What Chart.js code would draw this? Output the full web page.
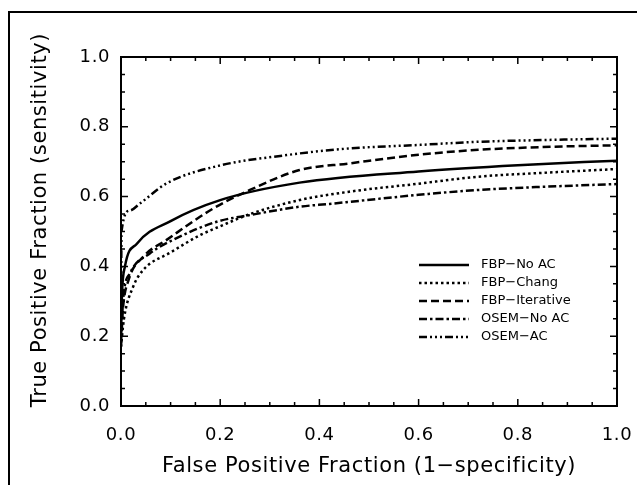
<!DOCTYPE html>
<html>
<head>
<meta charset="utf-8">
<script src="https://cdn.jsdelivr.net/npm/chart.js@4"></script>
<style>
  html, body { margin: 0; padding: 0; background: #fff; }
</style>
</head>
<body>
<canvas id="roc" width="637" height="485"></canvas>
<script>
// valores (x = 1-especificidad, y = sensibilidad)
const fbpNoAcX = [0, 0.002, 0.008, 0.032, 0.1, 0.2, 0.36, 0.6, 0.8, 1.0];
const fbpNoAcY = [0.2, 0.32, 0.40, 0.465, 0.53, 0.59, 0.64, 0.672, 0.69, 0.703];

const fbpChangX = [0, 0.006, 0.024, 0.045, 0.1, 0.16, 0.2, 0.26, 0.36, 0.46, 0.6, 0.72, 0.85, 1.0];
const fbpChangY = [0.17, 0.25, 0.34, 0.39, 0.44, 0.49, 0.515, 0.55, 0.59, 0.614, 0.637, 0.657, 0.668, 0.679];

const fbpIterX = [0, 0.004, 0.015, 0.045, 0.092, 0.186, 0.26, 0.36, 0.46, 0.6, 0.72, 0.85, 1.0];
const fbpIterY = [0.18, 0.28, 0.36, 0.428, 0.476, 0.566, 0.619, 0.676, 0.695, 0.72, 0.734, 0.742, 0.747];

const osemNoAcX = [0, 0.004, 0.018, 0.058, 0.105, 0.193, 0.26, 0.36, 0.42, 0.6, 0.72, 0.85, 1.0];
const osemNoAcY = [0.17, 0.3, 0.38, 0.437, 0.476, 0.528, 0.547, 0.571, 0.579, 0.605, 0.619, 0.628, 0.636];

const osemAcX = [0, 0.001, 0.018, 0.038, 0.092, 0.196, 0.334, 0.46, 0.6, 0.72, 0.85, 1.0];
const osemAcY = [0.2, 0.5, 0.56, 0.58, 0.638, 0.688, 0.719, 0.738, 0.748, 0.757, 0.762, 0.766];

const etiquetas = ['FBP−No AC', 'FBP−Chang', 'FBP−Iterative', 'OSEM−No AC', 'OSEM−AC'];
const ticksEje = [0, 0.2, 0.4, 0.6, 0.8, 1.0];
const tituloY = 'True Positive Fraction (sensitivity)';

const fuente = '"DejaVu Sans", sans-serif';

function puntos(xs, ys) {
    return xs.map((x, i) => ({x: x, y: ys[i]}));
}

function serie(label, xs, ys, dash) {
    return {
        label: label,
        data: puntos(xs, ys),
        borderColor: '#000',
        borderWidth: 2.5,
        borderDash: dash,
        pointRadius: 0,
        showLine: true,
        fill: false,
        cubicInterpolationMode: 'monotone'
    };
}

// marco exterior, ejes con ticks hacia dentro, titulo Y y leyenda dentro del grafico
const marco = {
    id: 'marco',
    beforeDraw(chart) {
        // el texto original es mas espaciado
        chart.ctx.letterSpacing = '0.6px';
    },
    afterDraw(chart) {
        const {ctx, chartArea: a, scales: {x, y}} = chart;
        ctx.save();
        ctx.strokeStyle = '#000';
        ctx.setLineDash([]);
        ctx.lineWidth = 2;
        ctx.strokeRect(9, 12, 700, 600);
        ctx.strokeRect(a.left, a.top, a.right - a.left, a.bottom - a.top);

        ctx.lineWidth = 1.5;
        ctx.beginPath();
        for (let i = 1; i < 20; i++) {
            const v = i * 0.05;
            const len = i % 4 === 0 ? 7 : 4;
            const px = x.getPixelForValue(v);
            const py = y.getPixelForValue(v);
            ctx.moveTo(px, a.bottom); ctx.lineTo(px, a.bottom - len);
            ctx.moveTo(px, a.top); ctx.lineTo(px, a.top + len);
            ctx.moveTo(a.left, py); ctx.lineTo(a.left + len, py);
            ctx.moveTo(a.right, py); ctx.lineTo(a.right - len, py);
        }
        ctx.stroke();

        // titulo del eje Y (un poco por encima del centro, como el original)
        ctx.save();
        ctx.translate(41, 220);
        ctx.rotate(-Math.PI / 2);
        ctx.font = '21px ' + fuente;
        ctx.fillStyle = '#000';
        ctx.textAlign = 'center';
        ctx.textBaseline = 'middle';
        ctx.fillText(tituloY, 0, 0);
        ctx.restore();

        // leyenda
        ctx.letterSpacing = '0px';
        ctx.font = '13px ' + fuente;
        ctx.fillStyle = '#000';
        ctx.textBaseline = 'middle';
        chart.data.datasets.forEach((ds, i) => {
            const yy = 265 + i * 18;
            ctx.beginPath();
            ctx.lineWidth = 2.5;
            ctx.setLineDash(ds.borderDash || []);
            ctx.moveTo(419, yy);
            ctx.lineTo(469, yy);
            ctx.stroke();
            ctx.setLineDash([]);
            ctx.fillText(ds.label, 481, yy);
        });
        ctx.restore();
    }
};

const ctx = document.getElementById('roc').getContext('2d');
new Chart(ctx, {
    type: 'scatter',
    data: {
        datasets: [
            serie(etiquetas[0], fbpNoAcX, fbpNoAcY, []),
            serie(etiquetas[1], fbpChangX, fbpChangY, [2.5, 3]),
            serie(etiquetas[2], fbpIterX, fbpIterY, [8, 4]),
            serie(etiquetas[3], osemNoAcX, osemNoAcY, [8, 3, 2.5, 3]),
            serie(etiquetas[4], osemAcX, osemAcY, [8, 3, 2, 3, 2, 3, 2, 3])
        ]
    },
    options: {
        responsive: false,
        animation: false,
        layout: {padding: {top: 57, right: 20, bottom: 0, left: 0}},
        plugins: {legend: {display: false}, tooltip: {enabled: false}},
        scales: {
            x: {
                type: 'linear',
                min: 0,
                max: 1,
                afterBuildTicks: s => { s.ticks = ticksEje.map(v => ({value: v})); },
                afterFit: s => { s.height = 79; },
                grid: {display: false, drawTicks: true, tickLength: 19},
                border: {display: false},
                ticks: {
                    padding: 0,
                    color: '#000',
                    font: {family: fuente, size: 18},
                    callback: v => v.toFixed(1)
                },
                title: {
                    display: true,
                    text: 'False Positive Fraction (1−specificity)',
                    color: '#000',
                    font: {family: fuente, size: 21},
                    padding: {top: 0, bottom: 6}
                }
            },
            y: {
                type: 'linear',
                min: 0,
                max: 1,
                afterBuildTicks: s => { s.ticks = ticksEje.map(v => ({value: v})); },
                afterFit: s => { s.width = 121; },
                grid: {display: false, drawTicks: true, tickLength: 11},
                border: {display: false},
                ticks: {
                    padding: 0,
                    color: '#000',
                    font: {family: fuente, size: 18},
                    callback: v => v.toFixed(1)
                },
                title: {display: false}
            }
        }
    },
    plugins: [marco]
});
</script>
</body>
</html>
